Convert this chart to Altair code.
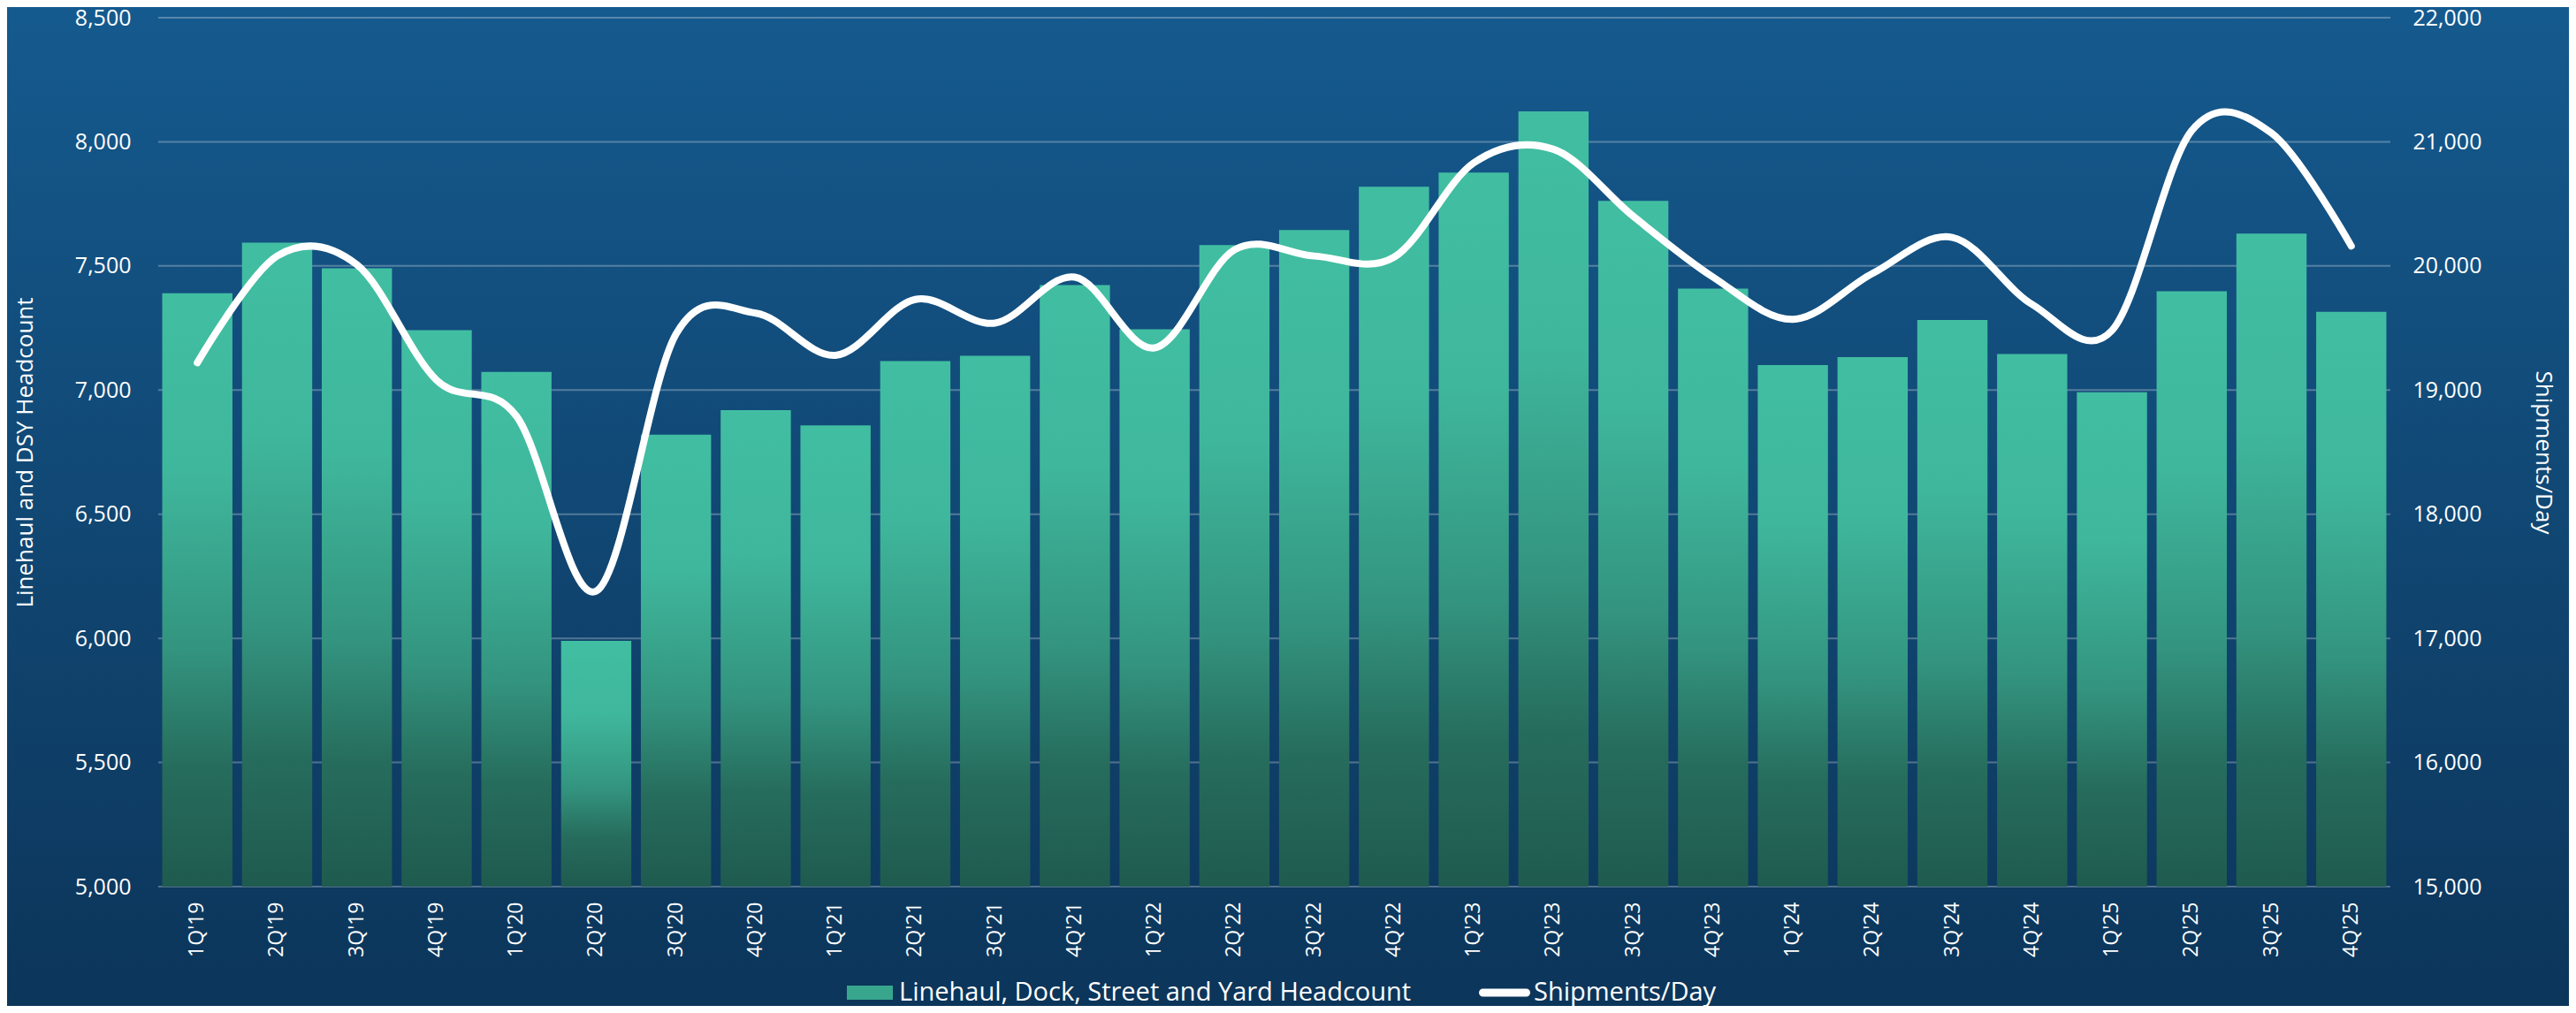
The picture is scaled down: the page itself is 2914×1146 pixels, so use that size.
import altair as alt
import pandas as pd

quarters = ["1Q'19", "2Q'19", "3Q'19", "4Q'19", "1Q'20", "2Q'20", "3Q'20", "4Q'20",
            "1Q'21", "2Q'21", "3Q'21", "4Q'21", "1Q'22", "2Q'22", "3Q'22", "4Q'22",
            "1Q'23", "2Q'23", "3Q'23", "4Q'23", "1Q'24", "2Q'24", "3Q'24", "4Q'24",
            "1Q'25", "2Q'25", "3Q'25", "4Q'25"]
headcount = [7390, 7594, 7491, 7241, 7073, 5990, 6820, 6919,
             6858, 7117, 7138, 7423, 7245, 7584, 7645, 7819,
             7876, 8123, 7762, 7409, 7101, 7133, 7282, 7145,
             6991, 7398, 7630, 7315]
shipments = [19220, 20080, 20010, 19080, 18790, 17380, 19450, 19620,
             19280, 19730, 19540, 19910, 19340, 20130, 20080, 20070,
             20830, 20940, 20400, 19910, 19570, 19940, 20230, 19690,
             19480, 21090, 21070, 20160]
left_ticks = [5000, 5500, 6000, 6500, 7000, 7500, 8000, 8500]
right_ticks = [15000, 16000, 17000, 18000, 19000, 20000, 21000, 22000]
series = ["Linehaul, Dock, Street and Yard Headcount", "Shipments/Day"]

W, H = 2525, 983
PAD = {"left": 171, "top": 12, "right": 202, "bottom": 135}
FONT = "Open Sans"
LEFT_DOMAIN = [5000, 8500]
RIGHT_DOMAIN = [15000, 22000]

df = pd.DataFrame({"quarter": quarters, "headcount": headcount, "shipments": shipments})
base = alt.Chart(df)

x_enc = alt.X("quarter:N", sort=quarters, title=None,
              scale=alt.Scale(paddingInner=0.12, paddingOuter=0.05),
              axis=alt.Axis(labelAngle=-90, labelPadding=17, ticks=False, domain=False,
                            grid=False, zindex=1,
                            labelFontSize=23, labelColor="white", labelFont=FONT))

bg = alt.Chart(alt.Data(values=[{"bg": 1}])).mark_rect(
    fill=alt.Gradient(gradient="linear",
                      stops=[alt.GradientStop(offset=0, color="#155a8e"),
                             alt.GradientStop(offset=1, color="#0c355a")],
                      x1=0, x2=0, y1=0, y2=1)
).encode(x=alt.value(-PAD["left"]), x2=alt.value(W + PAD["right"]),
         y=alt.value(-PAD["top"]), y2=alt.value(H + PAD["bottom"]))

grid = alt.Chart(pd.DataFrame({"tick": left_ticks})).mark_rule(
    stroke="white", strokeOpacity=0.28, strokeWidth=2
).encode(
    y=alt.Y("tick:Q", scale=alt.Scale(domain=LEFT_DOMAIN, nice=False, zero=False), axis=None)
)

bars = base.mark_bar(
    fill=alt.Gradient(gradient="linear",
                      stops=[alt.GradientStop(offset=0, color="#41bea2"),
                             alt.GradientStop(offset=0.3, color="#3fb79c"),
                             alt.GradientStop(offset=0.6, color="#33947f"),
                             alt.GradientStop(offset=0.8, color="#266c5c"),
                             alt.GradientStop(offset=1, color="#1f5b4f")],
                      x1=0, x2=0, y1=0, y2=1)
).encode(
    x=x_enc,
    y=alt.Y("headcount:Q", scale=alt.Scale(domain=LEFT_DOMAIN, nice=False, zero=False),
            axis=alt.Axis(values=left_ticks, format=",.0f", title="Linehaul and DSY Headcount",
                          grid=False, zindex=1,
                          domain=False, ticks=False, labelPadding=31, titlePadding=43,
                          labelFontSize=25, titleFontSize=26, labelColor="white",
                          titleColor="white", titleFontWeight="normal",
                          labelFont=FONT, titleFont=FONT)),
    y2=alt.datum(LEFT_DOMAIN[0]),
)

line = base.mark_line(stroke="white", strokeWidth=8, strokeCap="round",
                      interpolate="cardinal").encode(
    x=x_enc,
    y=alt.Y("shipments:Q", scale=alt.Scale(domain=RIGHT_DOMAIN, nice=False, zero=False),
            axis=alt.Axis(orient="right", values=right_ticks, format=",.0f", title="Shipments/Day",
                          grid=False, zindex=1, domain=False, ticks=False, labelPadding=25,
                          titlePadding=57, labelFontSize=25, titleFontSize=26,
                          labelColor="white", titleColor="white", titleFontWeight="normal",
                          labelFont=FONT, titleFont=FONT)),
)

rect_path = "M-0.897,-0.276H0.897V0.276H-0.897Z"
pill_path = ("M-0.845,-0.155H0.845A0.155,0.155 0 0 1 0.845,0.155"
             "H-0.845A0.155,0.155 0 0 1 -0.845,-0.155Z")

legend_df = pd.DataFrame({"series": series})
legend_layer = alt.Chart(legend_df).mark_point(filled=True, opacity=1).encode(
    color=alt.Color("series:N", sort=series,
                    scale=alt.Scale(domain=series, range=["#38a68d", "#ffffff"]),
                    legend=alt.Legend(title=None, orient="none", legendX=776, legendY=1074,
                                      direction="horizontal", labelFont=FONT,
                                      labelFontSize=29, labelColor="white",
                                      labelLimit=1000, labelOffset=4, columnPadding=76,
                                      symbolSize=3364, symbolStrokeWidth=0,
                                      symbolOpacity=1, padding=0, zindex=2)),
    shape=alt.Shape("series:N", sort=series,
                    scale=alt.Scale(domain=series, range=[rect_path, pill_path])),
).transform_filter("datum.series == 'none'")

chart = alt.layer(bg, grid, bars, line, legend_layer).resolve_scale(
    y="independent"
).properties(
    width=W, height=H, padding=PAD,
    autosize=alt.AutoSizeParams(type="none"),
    background="#0f4270",
).configure_view(stroke=None)

chart.save("out.html", embed_options={"renderer": "svg", "actions": False})
